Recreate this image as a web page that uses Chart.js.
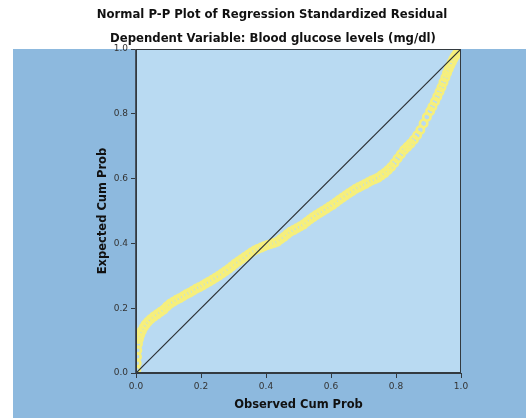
<!DOCTYPE html>
<html>
<head>
<meta charset="utf-8">
<script src="https://cdn.jsdelivr.net/npm/chart.js@4.4.1/dist/chart.umd.min.js"></script>
<style>
  html, body { margin: 0; padding: 0; background: #ffffff; }
  #wrap { width: 526px; height: 418px; }
</style>
</head>
<body>
<div id="wrap"><canvas id="ppChart" width="526" height="418"></canvas></div>
<script>
// Observed vs expected cumulative probability of the standardized residuals
const observedCum = [
  0.001, 0.002, 0.003, 0.004, 0.006, 0.009, 0.013, 0.018, 0.024, 0.030,
  0.037, 0.045, 0.055, 0.065, 0.075, 0.085, 0.095, 0.105, 0.115, 0.125,
  0.135, 0.145, 0.155, 0.165, 0.175, 0.185, 0.195, 0.205, 0.215, 0.225,
  0.235, 0.245, 0.255, 0.265, 0.275, 0.285, 0.295, 0.305, 0.315, 0.325,
  0.335, 0.345, 0.355, 0.365, 0.375, 0.385, 0.395, 0.405, 0.415, 0.425,
  0.435, 0.445, 0.455, 0.465, 0.475, 0.485, 0.495, 0.505, 0.515, 0.525,
  0.535, 0.545, 0.555, 0.565, 0.575, 0.585, 0.595, 0.605, 0.615, 0.625,
  0.635, 0.645, 0.655, 0.665, 0.675, 0.685, 0.695, 0.705, 0.715, 0.725,
  0.735, 0.745, 0.755, 0.765, 0.775, 0.785, 0.795, 0.805, 0.815, 0.825,
  0.835, 0.845, 0.855, 0.865, 0.875, 0.885, 0.895, 0.905, 0.912, 0.920,
  0.927, 0.934, 0.940, 0.946, 0.952, 0.957, 0.962, 0.967, 0.972, 0.977,
  0.982, 0.987, 0.992, 0.997
];
const expectedCum = [
  0.010, 0.030, 0.050, 0.070, 0.090, 0.105, 0.118, 0.130, 0.141, 0.150,
  0.158, 0.166, 0.174, 0.181, 0.188, 0.195, 0.205, 0.214, 0.220, 0.226,
  0.231, 0.237, 0.243, 0.248, 0.254, 0.260, 0.265, 0.270, 0.276, 0.282,
  0.288, 0.294, 0.300, 0.307, 0.314, 0.321, 0.329, 0.337, 0.344, 0.351,
  0.358, 0.365, 0.372, 0.378, 0.383, 0.387, 0.391, 0.395, 0.398, 0.401,
  0.405, 0.413, 0.420, 0.428, 0.436, 0.441, 0.447, 0.452, 0.458, 0.466,
  0.474, 0.481, 0.488, 0.494, 0.500, 0.506, 0.513, 0.519, 0.526, 0.534,
  0.541, 0.548, 0.555, 0.561, 0.568, 0.573, 0.578, 0.583, 0.589, 0.594,
  0.598, 0.603, 0.610, 0.617, 0.626, 0.636, 0.648, 0.662, 0.675, 0.688,
  0.698, 0.708, 0.720, 0.734, 0.750, 0.770, 0.790, 0.808, 0.822, 0.838,
  0.853, 0.868, 0.882, 0.897, 0.912, 0.926, 0.938, 0.950, 0.960, 0.970,
  0.978, 0.985, 0.992, 0.998
];
// reference line y = x
const diagonal = [{ x: 0, y: 0 }, { x: 1, y: 1 }];
const tickValues = [0, 0.2, 0.4, 0.6, 0.8, 1.0];

const chartTitles = [
  "Normal P-P Plot of Regression Standardized Residual",
  "Dependent Variable: Blood glucose levels (mg/dl)"
];

const points = observedCum.map((x, i) => ({ x: x, y: expectedCum[i] }));

// backgrounds, frame and the two title lines
const spssFrame = {
  id: "spssFrame",
  beforeDraw(chart) {
    const { ctx, chartArea: a, width, height } = chart;
    ctx.save();
    ctx.fillStyle = "#ffffff";
    ctx.fillRect(0, 0, width, height);
    ctx.fillStyle = "#8db9de";
    ctx.fillRect(13, a.top, width - 13, height - a.top);
    ctx.fillStyle = "#b9daf2";
    ctx.fillRect(a.left, a.top, a.right - a.left, a.bottom - a.top);
    ctx.restore();
  },
  afterDraw(chart) {
    const { ctx, chartArea: a } = chart;
    ctx.save();
    ctx.strokeStyle = "#333a40";
    ctx.lineWidth = 1;
    ctx.strokeRect(a.left + 0.5, a.top + 0.5, a.right - a.left - 1, a.bottom - a.top - 1);
    ctx.strokeStyle = "#46525e";
    ctx.beginPath();
    ctx.moveTo(a.left - 0.5, a.top);
    ctx.lineTo(a.left - 0.5, a.bottom);
    ctx.stroke();
    ctx.fillStyle = "#111111";
    ctx.font = "bold 11.7px 'DejaVu Sans', sans-serif";
    ctx.textAlign = "center";
    ctx.textBaseline = "middle";
    ctx.fillText(chartTitles[0], 272, 15);
    ctx.fillText(chartTitles[1], 273, 39);
    ctx.restore();
  }
};

const axisCommon = {
  type: "linear",
  min: 0,
  max: 1,
  afterBuildTicks(scale) {
    scale.ticks = tickValues.map(v => ({ value: v }));
  },
  grid: {
    drawOnChartArea: false,
    drawTicks: true,
    tickLength: 5,
    color: "#333a40"
  },
  border: { display: true, color: "#333a40", width: 1 },
  ticks: {
    color: "#333333",
    padding: 3,
    font: { family: "'DejaVu Sans', sans-serif", size: 9 },
    callback: v => Number(v).toFixed(1)
  }
};

const axisTitleFont = { family: "'DejaVu Sans', sans-serif", size: 11.5, weight: "bold" };

new Chart(document.getElementById("ppChart"), {
  data: {
    datasets: [
      {
        type: "line",
        data: diagonal,
        borderColor: "#2b2f33",
        borderWidth: 1.2,
        pointRadius: 0,
        fill: false,
        order: 0
      },
      {
        type: "scatter",
        data: points,
        pointStyle: "circle",
        pointRadius: 3.7,
        pointBorderWidth: 2.6,
        pointBackgroundColor: "rgba(0,0,0,0)",
        pointBorderColor: "#f6ef7c",
        order: 1
      }
    ]
  },
  options: {
    responsive: false,
    animation: false,
    layout: { padding: { top: 49, left: 96, right: 65, bottom: 6 } },
    plugins: {
      legend: { display: false },
      tooltip: { enabled: false }
    },
    scales: {
      x: {
        ...axisCommon,
        afterFit(scale) { scale.height = 39; },
        title: {
          display: true,
          text: "Observed Cum Prob",
          color: "#111111",
          padding: 0,
          font: axisTitleFont
        }
      },
      y: {
        ...axisCommon,
        afterFit(scale) { scale.width = 40; },
        title: {
          display: true,
          text: "Expected Cum Prob",
          color: "#111111",
          padding: 0,
          font: axisTitleFont
        }
      }
    }
  },
  plugins: [spssFrame]
});
</script>
</body>
</html>
